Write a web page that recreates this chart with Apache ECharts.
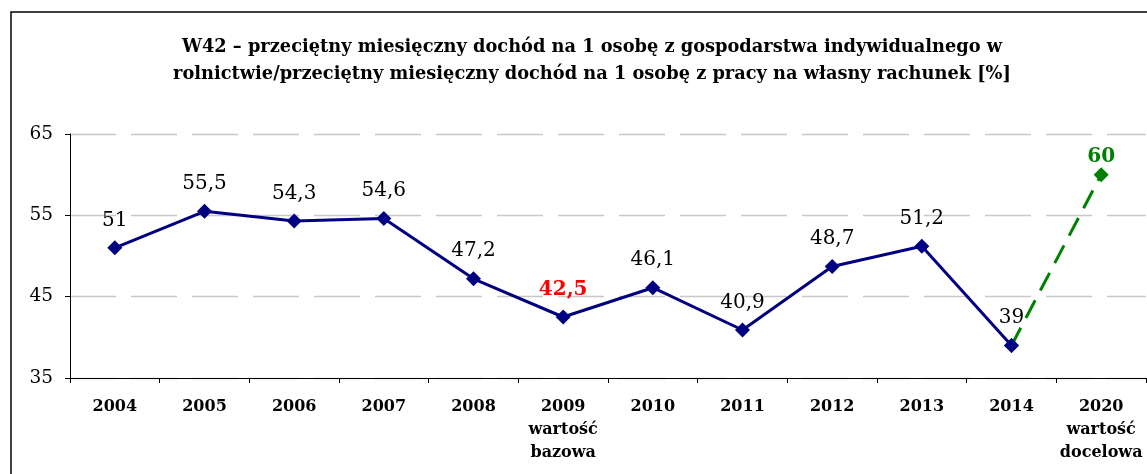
<!DOCTYPE html>
<html>
<head>
<meta charset="utf-8">
<script src="https://cdn.jsdelivr.net/npm/echarts@6/dist/echarts.min.js"></script>
<style>
  html, body { margin: 0; padding: 0; background: #fff; }
  #chart { width: 1147px; height: 474px; }
</style>
</head>
<body>
<div id="chart"></div>
<script>
var years = ['2004', '2005', '2006', '2007', '2008', '2009', '2010', '2011', '2012', '2013', '2014', '2020'];
var notes = { '2009': 'wartość\nbazowa', '2020': 'wartość\ndocelowa' };
var actual = [51, 55.5, 54.3, 54.6, 47.2, 42.5, 46.1, 40.9, 48.7, 51.2, 39, null];
var target = [null, null, null, null, null, null, null, null, null, null, 39, 60];
var yTicks = [35, 45, 55, 65];

var serif = '"DejaVu Serif", serif';

var chartDom = document.getElementById('chart');
var myChart = echarts.init(chartDom);
var option;

function comma(v) {
    return String(v).replace('.', ',');
}

option = {
    animation: false,
    title: {
        text: 'W42 – przeciętny miesięczny dochód na 1 osobę z gospodarstwa indywidualnego w\nrolnictwie/przeciętny miesięczny dochód na 1 osobę z pracy na własny rachunek [%]',
        left: 587,
        top: 29,
        textAlign: 'center',
        textStyle: {
            fontFamily: serif,
            fontWeight: 'bold',
            fontSize: 17.8,
            lineHeight: 27,
            color: '#000'
        }
    },
    graphic: [{
        type: 'rect',
        shape: { x: 11, y: 12, width: 1150, height: 480 },
        style: { fill: 'none', stroke: '#000', lineWidth: 1.5 },
        silent: true
    }],
    grid: { left: 70, right: 1, top: 134, bottom: 96 },
    xAxis: {
        type: 'category',
        data: years,
        boundaryGap: true,
        axisLine: { lineStyle: { color: '#000', width: 1 } },
        axisTick: { show: true, interval: 0, length: 5, lineStyle: { color: '#000' } },
        axisLabel: {
            interval: 0,
            margin: 17,
            fontFamily: serif,
            fontWeight: 'bold',
            fontSize: 16,
            lineHeight: 23,
            color: '#000',
            formatter: function (v) {
                return notes[v] ? v + '\n' + notes[v] : v;
            }
        }
    },
    yAxis: {
        type: 'value',
        min: yTicks[0],
        max: yTicks[yTicks.length - 1],
        interval: 10,
        axisLine: { show: true, lineStyle: { color: '#000', width: 1 } },
        axisTick: { show: true, length: 5, lineStyle: { color: '#000' } },
        axisLabel: {
            margin: 17,
            fontFamily: serif,
            fontSize: 18.5,
            color: '#000'
        },
        splitLine: {
            lineStyle: { color: '#c8c8c8', width: 1.3, type: [46, 15] }
        }
    },
    series: [
        {
            name: 'target',
            type: 'line',
            data: target,
            z: 2,
            symbol: 'diamond',
            symbolSize: 15,
            showSymbol: true,
            lineStyle: { color: '#008000', width: 3, type: [20, 11] },
            itemStyle: { color: '#008000' },
            label: {
                show: true,
                position: 'top',
                distance: 0,
                fontFamily: serif,
                fontWeight: 'bold',
                fontSize: 20,
                color: '#008000',
                formatter: function (p) {
                    return p.dataIndex === years.length - 1 ? comma(p.value) : '';
                }
            }
        },
        {
            name: 'actual',
            type: 'line',
            z: 3,
            symbol: 'diamond',
            symbolSize: 15,
            lineStyle: { color: '#000080', width: 3 },
            itemStyle: { color: '#000080' },
            label: {
                show: true,
                position: 'top',
                distance: 10,
                fontFamily: serif,
                fontSize: 20,
                color: '#000',
                formatter: function (p) {
                    return comma(p.value);
                }
            },
            data: actual.map(function (v, i) {
                if (years[i] === '2009') {
                    return { value: v, label: { color: '#ff0000', fontWeight: 'bold' } };
                }
                return v;
            })
        }
    ]
};

option && myChart.setOption(option);
</script>
</body>
</html>
